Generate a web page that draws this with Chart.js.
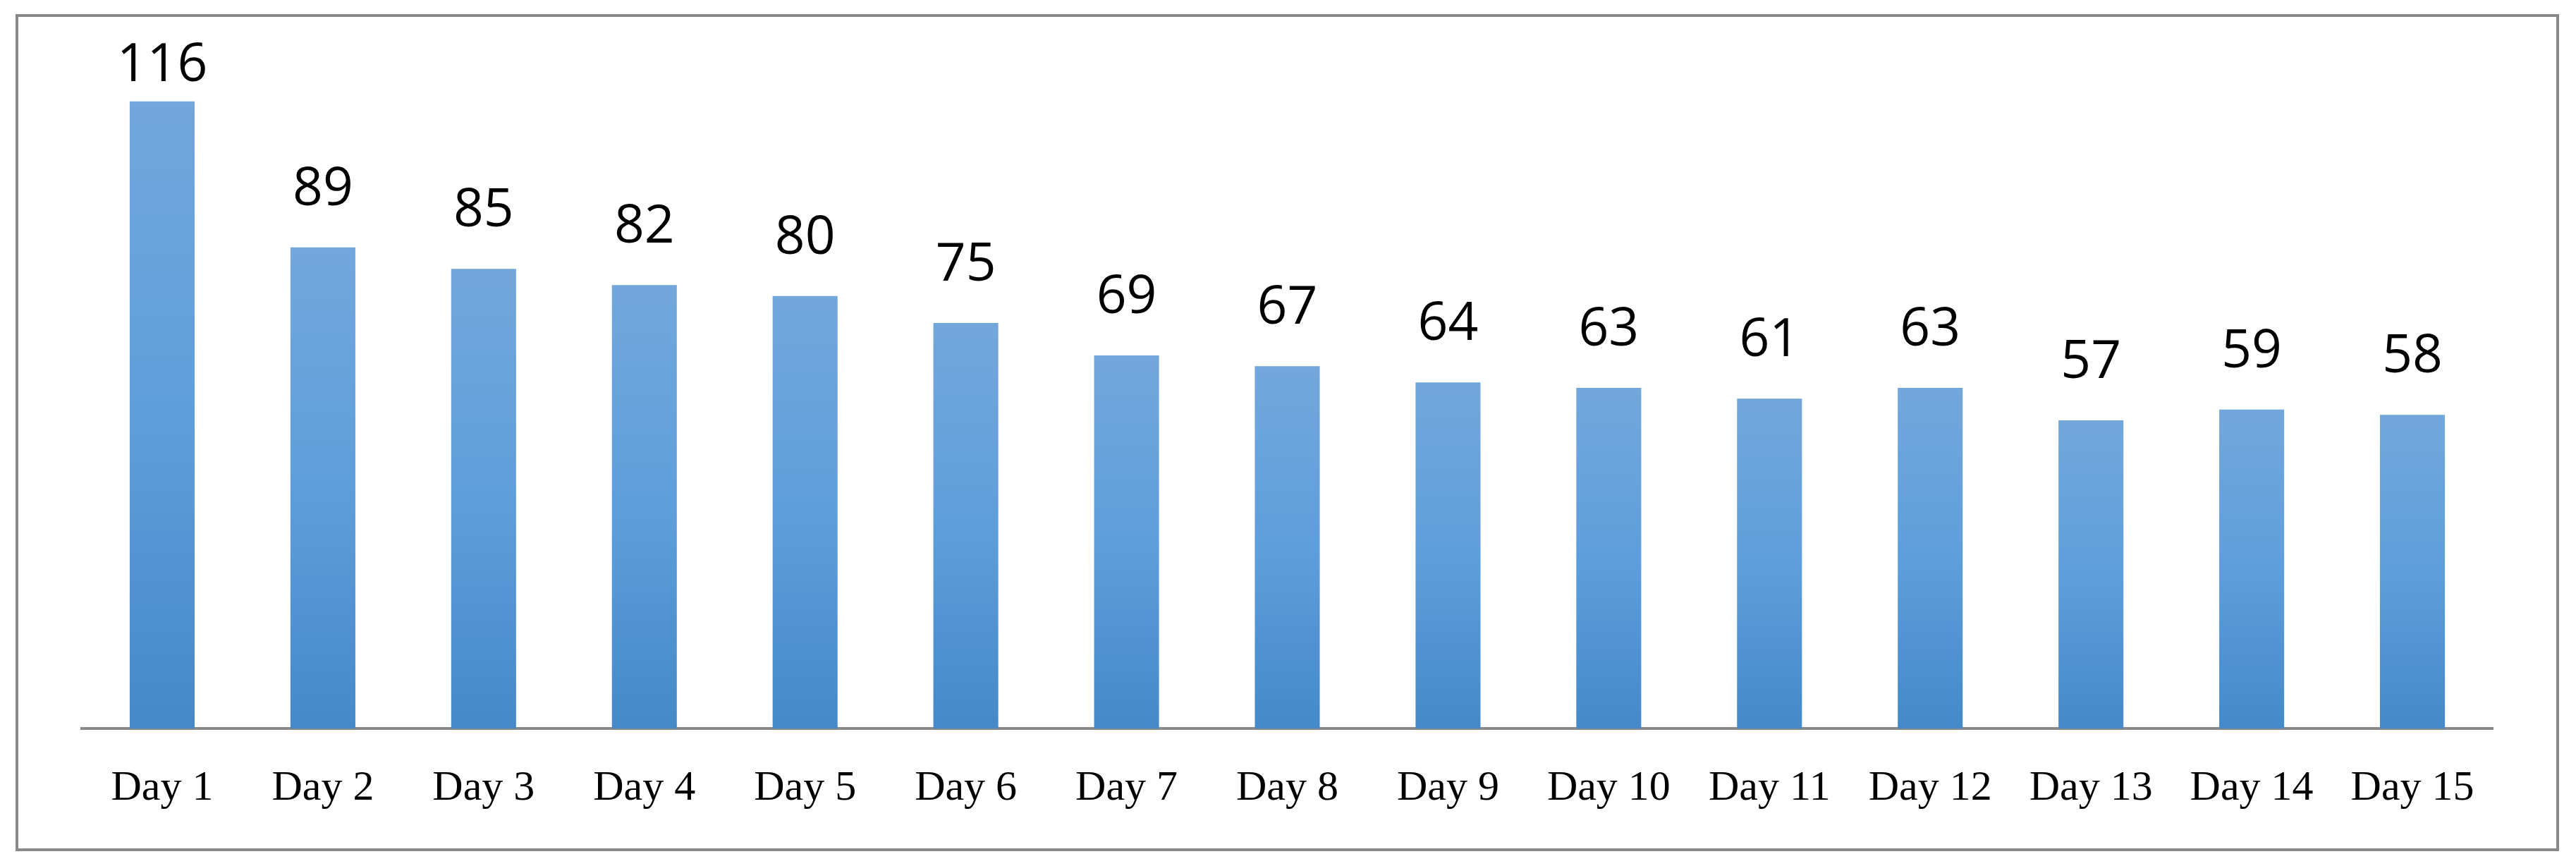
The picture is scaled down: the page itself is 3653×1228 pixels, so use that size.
<!DOCTYPE html>
<html>
<head>
<meta charset="utf-8">
<script src="https://cdn.jsdelivr.net/npm/chart.js@4/dist/chart.umd.min.js"></script>
<style>
  html, body { margin: 0; padding: 0; background: #fff; }
  #wrap { width: 3653px; height: 1228px; position: relative; }
</style>
</head>
<body>
<div id="wrap"><canvas id="dayChart" width="3653" height="1228"></canvas></div>
<script>
const days = ['Day 1', 'Day 2', 'Day 3', 'Day 4', 'Day 5', 'Day 6', 'Day 7', 'Day 8',
  'Day 9', 'Day 10', 'Day 11', 'Day 12', 'Day 13', 'Day 14', 'Day 15'];
const counts = [116, 89, 85, 82, 80, 75, 69, 67, 64, 63, 61, 63, 57, 59, 58];

// gradient per bar, lighter at the top like the original
function barFill(ctx) {
  const chart = ctx.chart;
  const y = chart.scales && chart.scales.y;
  if (!chart.chartArea || !y || ctx.raw == null) return '#5b9bd5';
  const top = y.getPixelForValue(ctx.raw);
  const base = y.getPixelForValue(0);
  const g = chart.ctx.createLinearGradient(0, top, 0, base);
  g.addColorStop(0, '#73a7db');
  g.addColorStop(0.5, '#5e9edc');
  g.addColorStop(1, '#4589c9');
  return g;
}

const frame = {
  id: 'frame',
  afterDraw(chart) {
    const c = chart.ctx;
    c.save();
    c.strokeStyle = '#898989';
    c.lineWidth = 4;
    c.strokeRect(24, 22, 3603, 1183);
    c.restore();
  }
};

// labels sit above the bars, but get pushed down when they'd leave the frame
const valueLabels = {
  id: 'valueLabels',
  afterDatasetsDraw(chart) {
    const c = chart.ctx;
    const meta = chart.getDatasetMeta(0);
    c.save();
    c.font = '75px "Open Sans"';
    c.fillStyle = '#000';
    c.textAlign = 'center';
    c.textBaseline = 'alphabetic';
    meta.data.forEach((bar, i) => {
      c.fillText(String(counts[i]), bar.x, Math.max(bar.y - 60, 115));
    });
    c.restore();
  }
};

new Chart(document.getElementById('dayChart').getContext('2d'), {
  type: 'bar',
  data: {
    labels: days,
    datasets: [{
      data: counts,
      backgroundColor: barFill,
      borderWidth: 0,
      categoryPercentage: 1,
      barPercentage: 0.404
    }]
  },
  options: {
    responsive: false,
    animation: false,
    events: [],
    layout: { padding: { left: 116, right: 118, top: 113, bottom: 33 } },
    plugins: { legend: { display: false }, tooltip: { enabled: false } },
    scales: {
      x: {
        grid: { display: false },
        border: { display: true, color: '#898989', width: 4 },
        ticks: {
          color: '#000',
          padding: 41,
          maxRotation: 0,
          autoSkip: false,
          font: { family: '"Liberation Serif"', size: 60, lineHeight: 1.2 }
        }
      },
      y: {
        display: false,
        min: 0,
        max: 120
      }
    }
  },
  plugins: [frame, valueLabels]
});
</script>
</body>
</html>
